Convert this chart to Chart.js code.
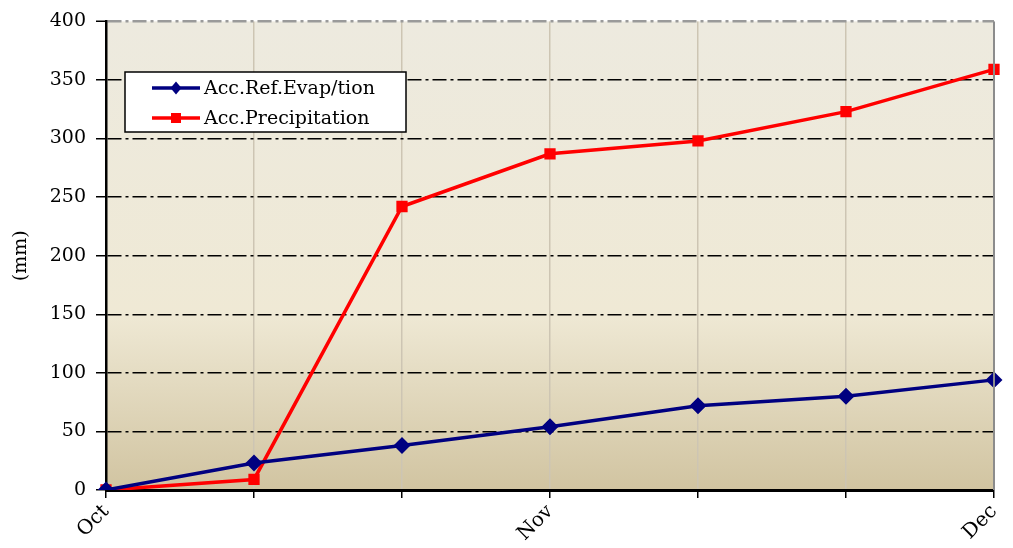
<!DOCTYPE html>
<html>
<head>
<meta charset="utf-8">
<script src="https://cdn.jsdelivr.net/npm/chart.js@4"></script>
<style>
  html, body { margin: 0; padding: 0; background: #ffffff; }
  #wrap { width: 1013px; height: 548px; position: relative; }
</style>
</head>
<body>
<div id="wrap"><canvas id="c" width="1013" height="548"></canvas></div>
<script>
const categories = ['Oct', '', '', 'Nov', '', '', 'Dec'];
const evapValues = [0, 23, 38, 54, 72, 80, 94];
const precipValues = [0, 9, 242, 287, 298, 323, 359];
const yTicks = [0, 50, 100, 150, 200, 250, 300, 350, 400];
const seriesNames = ['Acc.Ref.Evap/tion', 'Acc.Precipitation'];

const FONT = 'DejaVu Serif';

const bgPlugin = {
  id: 'bg',
  beforeDraw(chart) {
    const {ctx, chartArea: a} = chart;
    const g = ctx.createLinearGradient(0, a.top, 0, a.bottom);
    g.addColorStop(0, '#edeadf');
    g.addColorStop(0.62, '#efe9d5');
    g.addColorStop(1, '#d1c4a1');
    ctx.save();
    ctx.fillStyle = g;
    ctx.fillRect(a.left, a.top, a.right - a.left, a.bottom - a.top);
    ctx.restore();
  },
  afterDraw(chart) {
    const {ctx, chartArea: a} = chart;
    ctx.save();
    // right border
    ctx.strokeStyle = '#8c8c8c';
    ctx.lineWidth = 2;
    ctx.beginPath();
    ctx.moveTo(a.right, a.top);
    ctx.lineTo(a.right, a.bottom);
    ctx.stroke();
    // legend
    const lx = 125, ly = 72, lw = 281, lh = 60;
    ctx.fillStyle = '#ffffff';
    ctx.fillRect(lx, ly, lw, lh);
    ctx.strokeStyle = '#000';
    ctx.lineWidth = 1.5;
    ctx.strokeRect(lx, ly, lw, lh);
    chart.data.datasets.forEach((ds, i) => {
      const y = ly + 16 + i * 30;
      ctx.strokeStyle = ds.borderColor;
      ctx.lineWidth = 3.5;
      ctx.beginPath();
      ctx.moveTo(152, y);
      ctx.lineTo(200, y);
      ctx.stroke();
      ctx.fillStyle = ds.borderColor;
      const r = 5.5;
      if (ds.pointStyle === 'rectRot') {
        ctx.beginPath();
        ctx.moveTo(176, y - r - 1); ctx.lineTo(176 + r, y); ctx.lineTo(176, y + r + 1); ctx.lineTo(176 - r, y); ctx.closePath();
        ctx.fill();
      } else {
        ctx.fillRect(176 - 5, y - 5, 10, 10);
      }
      ctx.fillStyle = '#000';
      ctx.font = '19px "' + FONT + '"';
      ctx.textBaseline = 'middle';
      ctx.textAlign = 'left';
      ctx.fillText(ds.label, 204, y + 1);
    });
    ctx.restore();
  }
};

new Chart(document.getElementById('c'), {
  type: 'line',
  data: {
    labels: categories,
    datasets: [
      {
        label: seriesNames[0],
        data: evapValues,
        borderColor: '#000080',
        backgroundColor: '#000080',
        borderWidth: 3.5,
        pointStyle: 'rectRot',
        pointRadius: 6,
        pointHoverRadius: 6,
        tension: 0,
        fill: false
      },
      {
        label: seriesNames[1],
        data: precipValues,
        borderColor: '#ff0000',
        backgroundColor: '#ff0000',
        borderWidth: 3.5,
        pointStyle: 'rect',
        pointRadius: 5.5,
        pointHoverRadius: 5.5,
        tension: 0,
        fill: false
      }
    ]
  },
  options: {
    responsive: false,
    animation: false,
    devicePixelRatio: 1,
    layout: { padding: { left: 0, right: 19, top: 20, bottom: 0 } },
    plugins: {
      legend: { display: false },
      tooltip: { enabled: false }
    },
    scales: {
      x: {
        type: 'category',
        offset: false,
        afterFit(s) { s.height = 58; },
        grid: {
          color: '#cdc5b3',
          lineWidth: 1.5,
          drawTicks: true,
          tickLength: 8,
          tickColor: '#000',
          tickWidth: 1.5
        },
        border: { color: '#000', width: 3 },
        ticks: {
          autoSkip: false,
          maxRotation: 45,
          minRotation: 45,
          padding: 2,
          color: '#000',
          font: { family: FONT, size: 20 }
        }
      },
      y: {
        min: 0,
        max: 400,
        afterFit(s) { s.width = 106; },
        afterBuildTicks(s) { s.ticks = yTicks.map(v => ({ value: v })); },
        title: {
          display: true,
          text: '(mm)',
          color: '#000',
          padding: { top: 10, bottom: 10 },
          font: { family: FONT, size: 19 }
        },
        grid: {
          color: (c) => (c.tick && c.tick.value === 400) ? '#9a9a9a' : '#000',
          lineWidth: (c) => (c.tick && c.tick.value === 400) ? 2.5 : 1.5,
          drawTicks: true,
          tickLength: 10,
          tickColor: '#000',
          tickWidth: 1.5,
          tickBorderDash: []
        },
        border: { color: '#000', width: 2.5, dash: [14, 4, 3, 4] },
        ticks: {
          padding: 10,
          color: '#000',
          font: { family: FONT, size: 19 }
        }
      }
    }
  },
  plugins: [bgPlugin]
});
</script>
</body>
</html>
